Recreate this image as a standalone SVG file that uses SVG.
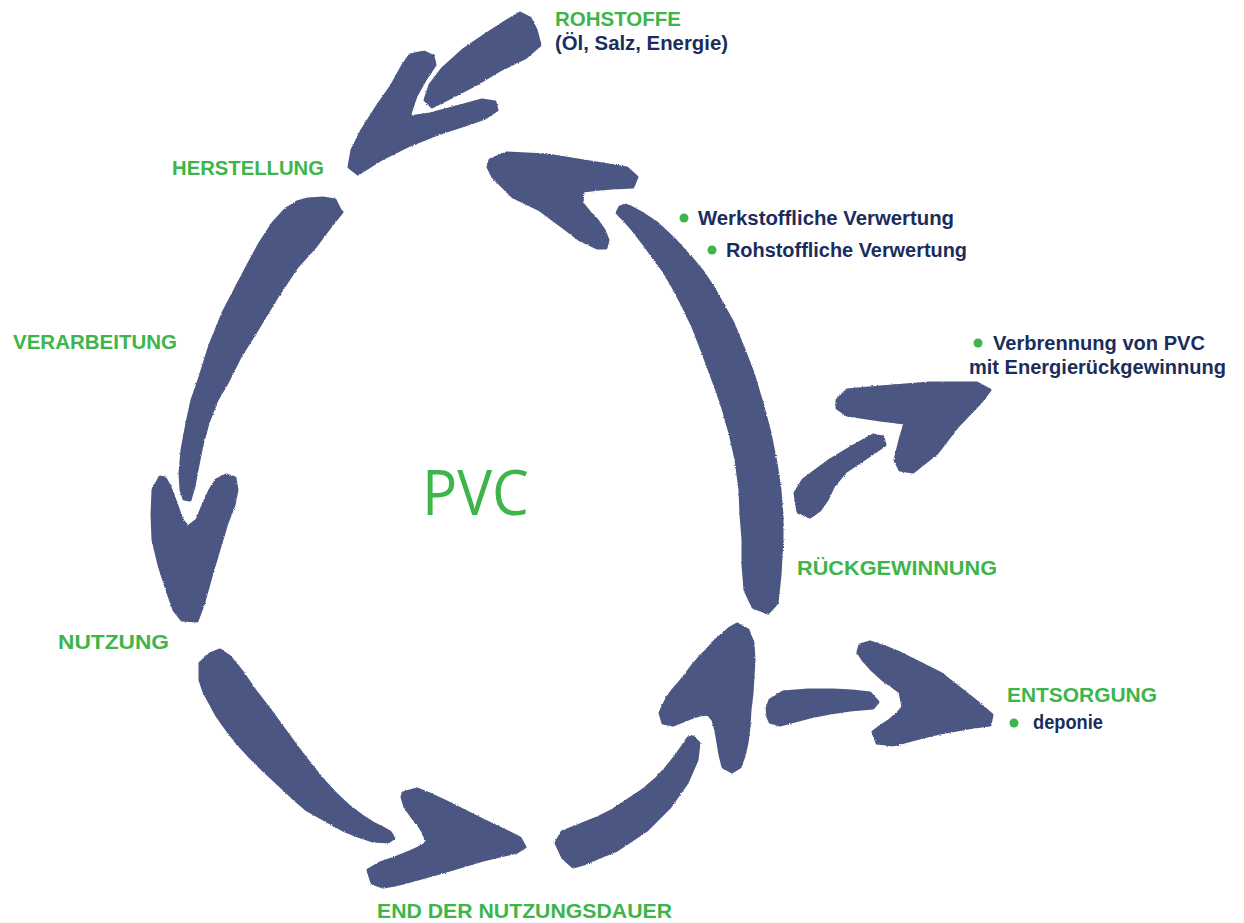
<svg xmlns="http://www.w3.org/2000/svg" width="1244" height="923" viewBox="0 0 1244 923">
<defs>
<filter id="rough" x="-5%" y="-5%" width="110%" height="110%">
<feTurbulence type="fractalNoise" baseFrequency="0.9" numOctaves="1" seed="3" result="n"/>
<feDisplacementMap in="SourceGraphic" in2="n" scale="2.5" xChannelSelector="R" yChannelSelector="G"/>
</filter>
</defs>
<style>
.brush{fill:#4B5783;stroke:#4B5783;stroke-width:3;stroke-linejoin:round}
.stage{font-family:"Liberation Sans",Arial,sans-serif;font-weight:bold;font-size:20px;fill:#3DB54A}
.note{font-family:"Liberation Sans",Arial,sans-serif;font-weight:bold;font-size:20px;fill:#1B2D5C}
.dot{fill:#3DB54A}
.pvc{font-family:"Open Sans","Liberation Sans",sans-serif;font-size:63px;fill:#3DB54A}
</style>
<rect width="1244" height="923" fill="#ffffff"/>
<g id="connectors" filter="url(#rough)">
<!-- Rohstoffe to Herstellung -->
<polygon class="brush" points="520,13 505,22 485,35 463,50 443,68 430,85 425,100 432,107 450,98 475,85 500,70 525,58 540,45 536,30 530,18"/>
<polygon class="brush" points="410,55 424,52 433,56 435,65 425,80 416,96 409,117 430,114 460,106 482,100 495,102 497,110 485,118 465,125 440,133 410,145 380,160 358,174 349,167 352,150 362,130 378,105 392,85 403,65"/>
<!-- Herstellung to Nutzung -->
<polygon class="brush" points="340,210 335,200 323,198 308,199 297,202 285,210 273,223 260,243 247,267 235,290 223,313 210,345 200,377 192,400 187,423 182,450 180,473 181,490 184,499 190,500 194,486 197,470 202,445 208,423 217,400 227,383 240,357 257,330 277,297 297,267 315,247 330,227 342,212"/>
<polygon class="brush" points="160,477 153,490 152,515 153,540 159,565 167,590 174,610 182,620 197,621 203,605 212,573 220,546 227,523 234,505 237,490 235,478 226,475 216,480 210,490 203,505 197,520 188,527 182,520 176,503 170,487 165,478"/>
<!-- Rueckgewinnung to Herstellung -->
<polygon class="brush" points="490,160 507,153 547,155 590,162 627,168 637,177 633,187 613,188 600,189 583,191 582,203 590,213 597,220 604,230 608,240 606,248 597,248 580,240 563,227 540,210 513,197 493,177 488,167"/>
<polygon class="brush" points="620,207 627,205 640,212 657,223 675,240 693,260 703,272 713,287 723,305 733,323 743,347 753,373 762,403 770,433 776,463 780,490 782,515 782,540 780,575 777,603 768,613 753,607 745,590 743,565 743,540 741,515 740,490 736,460 730,433 722,405 713,380 703,353 693,327 683,306 673,287 663,270 653,257 643,243 633,230 625,221 617,213"/>
<!-- Verbrennung -->
<polygon class="brush" points="837,400 847,390 880,387 930,383 977,383 990,390 980,403 957,427 937,453 913,472 900,470 895,460 900,440 905,423 880,420 847,415 837,408"/>
<polygon class="brush" points="795,493 803,480 830,460 855,445 873,435 883,437 885,445 863,460 845,472 833,487 827,500 820,510 810,517 798,512"/>
<!-- Nutzung to End -->
<polygon class="brush" points="200,663 210,654 220,650 230,657 243,673 256,692 270,710 283,728 297,747 310,764 323,780 336,794 350,807 362,816 373,823 383,828 390,832 394,838 388,842 373,841 358,836 343,830 325,820 307,810 292,797 277,783 263,770 250,757 238,744 227,730 217,716 210,703 204,692 200,680"/>
<polygon class="brush" points="403,793 417,789 432,795 447,802 465,811 483,820 502,829 520,838 525,847 517,852 500,856 483,860 463,866 443,872 425,877 407,882 395,885 383,887 372,883 368,870 380,863 395,858 407,853 418,848 427,843 423,832 418,824 412,817 405,807 402,797"/>
<!-- End to Rueckgewinnung -->
<polygon class="brush" points="693,737 699,743 697,760 687,783 670,807 647,830 617,850 600,857 587,863 573,867 563,858 556,843 562,832 580,825 597,818 613,810 628,800 643,790 656,779 667,767 675,757 682,747 688,738"/>
<polygon class="brush" points="737,624 748,630 753,643 754,660 753,677 752,693 750,710 749,727 747,743 744,756 740,767 732,772 723,767 720,755 718,743 716,731 713,720 708,714 700,715 693,717 683,721 673,725 663,723 660,713 663,706 667,698 673,690 680,682 687,673 693,665 700,657 707,650 714,642 722,635 730,628"/>
<!-- Entsorgung -->
<polygon class="brush" points="770,700 783,692 808,690 833,690 852,691 870,693 878,702 873,708 850,710 830,713 810,717 795,721 780,725 770,722 768,717 767,708"/>
<polygon class="brush" points="860,645 870,642 885,647 900,653 920,663 940,673 958,687 977,702 992,715 990,725 974,727 957,730 940,733 923,737 908,741 893,745 877,743 873,732 881,726 890,720 898,713 903,707 900,692 892,686 883,680 872,670 863,660 858,652"/>
</g>
<g id="center">
<text class="pvc" x="422" y="515" textLength="107" lengthAdjust="spacingAndGlyphs">PVC</text>
</g>
<g id="rohstoffe">
<text class="stage" x="555" y="26" textLength="126" lengthAdjust="spacingAndGlyphs">ROHSTOFFE</text>
<text class="note" x="555" y="50" textLength="173" lengthAdjust="spacingAndGlyphs">(Öl, Salz, Energie)</text>
</g>
<g id="herstellung">
<text class="stage" x="172" y="175" textLength="152" lengthAdjust="spacingAndGlyphs">HERSTELLUNG</text>
</g>
<g id="verarbeitung">
<text class="stage" x="13" y="349" textLength="164" lengthAdjust="spacingAndGlyphs">VERARBEITUNG</text>
</g>
<g id="nutzung">
<text class="stage" x="58" y="649" textLength="111" lengthAdjust="spacingAndGlyphs">NUTZUNG</text>
</g>
<g id="end-der-nutzungsdauer">
<text class="stage" x="377" y="918" textLength="295" lengthAdjust="spacingAndGlyphs">END DER NUTZUNGSDAUER</text>
</g>
<g id="rueckgewinnung">
<text class="stage" x="797" y="575" textLength="200" lengthAdjust="spacingAndGlyphs">RÜCKGEWINNUNG</text>
<circle class="dot" cx="684" cy="218" r="4.5"/>
<text class="note" x="698" y="225" textLength="256" lengthAdjust="spacingAndGlyphs">Werkstoffliche Verwertung</text>
<circle class="dot" cx="712" cy="250" r="4.5"/>
<text class="note" x="726" y="257" textLength="241" lengthAdjust="spacingAndGlyphs">Rohstoffliche Verwertung</text>
</g>
<g id="verbrennung">
<circle class="dot" cx="978" cy="343" r="4.5"/>
<text class="note" x="993" y="350" textLength="212" lengthAdjust="spacingAndGlyphs">Verbrennung von PVC</text>
<text class="note" x="969" y="374" textLength="257" lengthAdjust="spacingAndGlyphs">mit Energierückgewinnung</text>
</g>
<g id="entsorgung">
<text class="stage" x="1007" y="702" textLength="150" lengthAdjust="spacingAndGlyphs">ENTSORGUNG</text>
<circle class="dot" cx="1014" cy="723" r="4.5"/>
<text class="note" x="1033" y="729" textLength="70" lengthAdjust="spacingAndGlyphs">deponie</text>
</g>
</svg>
